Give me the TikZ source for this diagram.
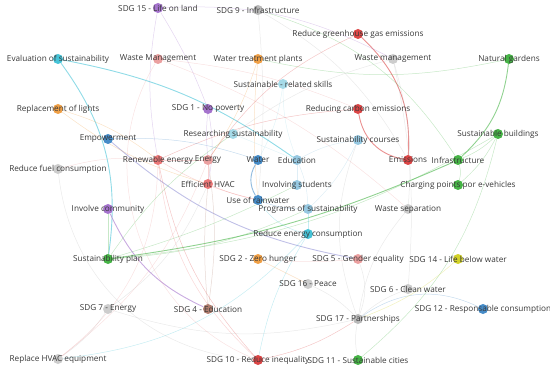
\documentclass[tikz,border=0pt]{standalone}
\usepackage{fontspec}
\setsansfont{Open Sans}
\usetikzlibrary{backgrounds}

\definecolor{cPurple}{RGB}{165,115,205}
\definecolor{cLav}{RGB}{150,150,215}
\definecolor{cGray}{RGB}{185,185,185}
\definecolor{cLGray}{RGB}{205,205,205}
\definecolor{cCyan}{RGB}{70,195,215}
\definecolor{cLCyan}{RGB}{165,218,232}
\definecolor{cPink}{RGB}{235,160,160}
\definecolor{cOrange}{RGB}{240,160,70}
\definecolor{cRed}{RGB}{220,70,70}
\definecolor{cLRed}{RGB}{236,120,120}
\definecolor{cGreen}{RGB}{70,180,70}
\definecolor{cBlue}{RGB}{70,140,200}
\definecolor{cLBlue}{RGB}{150,200,225}
\definecolor{cYellow}{RGB}{210,210,40}
\definecolor{cBrown}{RGB}{175,125,110}

\begin{document}
\begin{tikzpicture}[
    x=1pt, y=-1pt,
    font=\sffamily\fontsize{8.2}{9}\selectfont,
    kw/.style={circle, fill=#1, inner sep=0pt, minimum size=10pt},
    term/.style={text=black!78, inner sep=0pt},
    link/.style={draw=#1, line width=0.5pt, draw opacity=0.3},
    strong/.style={draw=#1, line width=0.9pt, draw opacity=0.6},
]
\useasboundingbox (0,0) rectangle (550,369);

% keywords
\node[kw=cPurple] (sdg15)      at (158,8)   {};
\node[kw=cGray]   (sdg9)       at (258,10)  {};
\node[kw=cCyan]   (evalsus)    at (58,59)   {};
\node[kw=cPink]   (wasteM)     at (158,59)  {};
\node[kw=cOrange] (watertp)    at (258,59)  {};
\node[kw=cRed]    (greenhouse) at (358,34)  {};
\node[kw=cLGray]  (wastem)     at (393,59)  {};
\node[kw=cGreen]  (gardens)    at (509,59)  {};
\node[kw=cLCyan]  (skills)     at (283,84)  {};
\node[kw=cOrange] (lights)     at (58,109)  {};
\node[kw=cPurple] (sdg1)       at (208,109) {};
\node[kw=cRed]    (carbon)     at (358,109) {};
\node[kw=cBlue]   (empower)    at (108,139) {};
\node[kw=cLCyan]  (research)   at (233,134) {};
\node[kw=cLBlue]  (courses)    at (358,140) {};
\node[kw=cGreen]  (buildings)  at (498,134) {};
\node[kw=cLRed]   (renew)      at (158,160) {};
\node[kw=cPink]   (energy)     at (208,160) {};
\node[kw=cBlue]   (water)      at (258,160) {};
\node[kw=cLBlue]  (education)  at (297,160) {};
\node[kw=cRed]    (emissions)  at (408,160) {};
\node[kw=cGreen]  (infra)      at (458,160) {};
\node[kw=cLGray]  (fuel)       at (58,169)  {};
\node[kw=cLRed]   (hvac)       at (208,184) {};
\node[kw=cLBlue]  (students)   at (297,185) {};
\node[kw=cGreen]  (charging)   at (458,185) {};
\node[kw=cBlue]   (rainwater)  at (258,200) {};
\node[kw=cLBlue]  (programs)   at (308,209) {};
\node[kw=cLGray]  (separation) at (408,209) {};
\node[kw=cPurple] (community)  at (108,209) {};
\node[kw=cCyan]   (reduceen)   at (308,234) {};
\node[kw=cGreen]  (plan)       at (108,259) {};
\node[kw=cOrange] (sdg2)       at (258,259) {};
\node[kw=cPink]   (sdg5)       at (358,259) {};
\node[kw=cYellow] (sdg14)      at (458,259) {};
\node[kw=cLGray]  (sdg16)      at (308,284) {};
\node[kw=cLGray]  (sdg6)       at (408,289) {};
\node[kw=cLGray]  (sdg7)       at (108,309) {};
\node[kw=cBrown]  (sdg4)       at (208,309) {};
\node[kw=cBlue]   (sdg12)      at (483,309) {};
\node[kw=cGray]   (sdg17)      at (358,319) {};
\node[kw=cLGray]  (hvaceq)     at (58,359)  {};
\node[kw=cRed]    (sdg10)      at (258,360) {};
\node[kw=cGreen]  (sdg11)      at (358,360) {};

% labels on top of the dots
\foreach \k/\t in {sdg15/SDG 15 - Life on land, sdg9/SDG 9 - Infrastructure,
    evalsus/Evaluation of sustainability, wasteM/Waste Management,
    watertp/Water treatment plants, greenhouse/Reduce greenhouse gas emissions,
    wastem/Waste management, gardens/Natural gardens,
    skills/Sustainable - related skills, lights/Replacement of lights,
    sdg1/SDG 1 - No poverty, carbon/Reducing carbon emissions,
    empower/Empowerment, research/Researching sustainability,
    courses/Sustainability courses, buildings/Sustainable buildings,
    renew/Renewable energy, energy/Energy, water/Water, education/Education,
    emissions/Emissions, infra/Infrastructure, fuel/Reduce fuel consumption,
    hvac/Efficient HVAC, students/Involving students,
    charging/Charging points por e-vehicles, rainwater/Use of rainwater,
    programs/Programs of sustainability, separation/Waste separation,
    community/Involve community, reduceen/Reduce energy consumption,
    plan/Sustainability plan, sdg2/SDG 2 - Zero hunger,
    sdg5/SDG 5 - Gender equality, sdg14/SDG 14 - Life below water,
    sdg16/SDG 16 - Peace, sdg6/SDG 6 - Clean water, sdg7/SDG 7 - Energy,
    sdg4/SDG 4 - Education, sdg12/SDG 12 - Responsable consumption,
    sdg17/SDG 17 - Partnerships, hvaceq/Replace HVAC equipment,
    sdg10/SDG 10 - Reduce inequality, sdg11/SDG 11 - Sustainable cities}
    \node[term] (\k-t) at (\k) {\t};

\begin{scope}[on background layer]
% heavier links
\draw[strong=cRed]    (greenhouse) to[bend left=25]  (emissions);
\draw[strong=cRed]    (carbon)     to[bend right=35] (emissions);
\draw[strong=cCyan]   (evalsus)    to[bend left=12]  (education);
\draw[strong=cCyan]   (evalsus)    to[bend left=22]  (plan);
\draw[strong=cLav]    (empower)    to[bend right=15] (sdg5);
\draw[strong=cPurple] (community)  to[bend right=20] (sdg4);
\draw[strong=cGreen]  (gardens)    to[bend left=20]  (infra);
\draw[strong=cGreen]  (plan)       to[bend right=8]  (infra);
\draw[strong=cBlue]   (water)      to[bend right=30] (rainwater);

% faint links
\draw[link=cCyan]   (reduceen)   to[bend left=20]  (hvaceq);
\draw[link=cGreen]  (gardens)    to[bend left=12]  (watertp);
\draw[link=cGreen]  (buildings)  to[bend left=18]  (sdg11);
\draw[link=cGreen]  (plan)       to[bend right=12] (buildings);
\draw[link=cGreen]  (plan)       to[bend right=10] (programs);
\draw[link=cGreen]  (plan)       to                (community);
\draw[link=cGreen]  (plan)       to[bend left=10]  (research);
\draw[link=cGreen]  (plan)       to[bend right=5]  (students);
\draw[link=cGreen]  (infra)      to[bend left=15]  (charging);
\draw[link=cGreen]  (infra)      to[bend right=10] (buildings);
\draw[link=cGreen]  (buildings)  to[bend left=10]  (charging);
\draw[link=cGreen]  (sdg9)       to[bend left=20]  (infra);
\draw[link=cGray]   (sdg17)      to[bend right=10] (sdg16);
\draw[link=cGray]   (sdg17)      to[bend left=10]  (sdg6);
\draw[link=cGray]   (sdg17)      to[bend left=15]  (separation);
\draw[link=cGray]   (sdg17)      to[bend right=10] (sdg11);
\draw[link=cGray]   (sdg17)      to[bend left=15]  (sdg7);
\draw[link=cGray]   (sdg17)      to[bend right=20] (sdg5);
\draw[link=cGray]   (sdg17)      to[bend left=20]  (courses);
\draw[link=cBlue]   (sdg17)      to[bend left=30]  (sdg12);
\draw[link=cYellow] (sdg14)      to[bend left=10]  (sdg17);
\draw[link=cPink]   (sdg2)       to[bend right=5]  (sdg5);
\draw[link=cOrange] (sdg2)       to                (sdg16);
\draw[link=cRed]    (sdg10)      to[bend left=15]  (renew);
\draw[link=cRed]    (sdg10)      to[bend right=10] (sdg17);
\draw[link=cBrown]  (sdg4)       to[bend left=5]   (hvac);
\draw[link=cBrown]  (sdg4)       to[bend right=8]  (energy);
\draw[link=cCyan]   (reduceen)   to[bend right=10] (sdg10);
\draw[link=cCyan]   (reduceen)   to                (programs);
\draw[link=cCyan]   (reduceen)   to[bend left=20]  (rainwater);
\draw[link=cGray]   (sdg7)       to[bend left=10]  (hvaceq);
\draw[link=cGray]   (sdg7)       to[bend right=15] (hvac);
\draw[link=cPink]   (hvaceq)     to[bend right=15] (energy);
\draw[link=cPink]   (hvaceq)     to[bend right=25] (renew);
\draw[link=cGray]   (fuel)       to[bend right=40] (sdg10);
\draw[link=cPink]   (fuel)       to[bend left=10]  (renew);
\draw[link=cOrange] (lights)     to[bend left=10]  (renew);
\draw[link=cOrange] (lights)     to[bend right=10] (hvac);
\draw[link=cOrange] (watertp)    to[bend left=8]   (energy);
\draw[link=cOrange] (watertp)    to[bend right=5]  (rainwater);
\draw[link=cPurple] (sdg15)      to[bend left=5]   (sdg1);
\draw[link=cPurple] (sdg15)      to[bend right=10] (renew);
\draw[link=cPurple] (sdg15)      to[bend left=15]  (wastem);
\draw[link=cPink]   (wasteM)     to[bend left=8]   (carbon);
\draw[link=cPink]   (wasteM)     to[bend left=10]  (separation);
\draw[link=cPink]   (wasteM)     to[bend right=50] (sdg10);
\draw[link=cGray]   (sdg9)       to[bend left=5]   (rainwater);
\draw[link=cGray]   (sdg9)       to[bend left=15]  (emissions);
\draw[link=cGray]   (wastem)     to[bend left=10]  (separation);
\draw[link=cGray]   (wastem)     to[bend right=10] (research);
\draw[link=cGray]   (wastem)     to[bend left=8]   (sdg6);
\draw[link=cRed]    (greenhouse) to[bend right=15] (energy);
\draw[link=cRed]    (carbon)     to[bend right=10] (renew);
\draw[link=cLCyan]  (skills)     to[bend right=10] (education);
\draw[link=cLCyan]  (skills)     to[bend left=10]  (water);
\draw[link=cLCyan]  (research)   to                (education);
\draw[link=cLBlue]  (courses)    to[bend right=10] (education);
\draw[link=cLBlue]  (courses)    to[bend left=10]  (programs);
\draw[link=cLBlue]  (education)  to                (students);
\draw[link=cLBlue]  (education)  to[bend left=10]  (programs);
\draw[link=cBlue]   (rainwater)  to[bend right=10] (programs);
\draw[link=cBlue]   (empower)    to[bend left=10]  (water);
\draw[link=cLRed]   (renew)      to                (energy);
\draw[link=cLRed]   (renew)      to[bend right=8]  (rainwater);
\draw[link=cLRed]   (energy)     to                (hvac);
\draw[link=cLRed]   (hvac)       to[bend right=5]  (rainwater);
\draw[link=cLRed]   (renew)      to[bend right=20] (sdg10);
\draw[link=cPurple] (sdg1)       to[bend right=5]  (energy);
\draw[link=cPurple] (sdg1)       to[bend left=10]  (hvac);
\end{scope}
\end{tikzpicture}
\end{document}
